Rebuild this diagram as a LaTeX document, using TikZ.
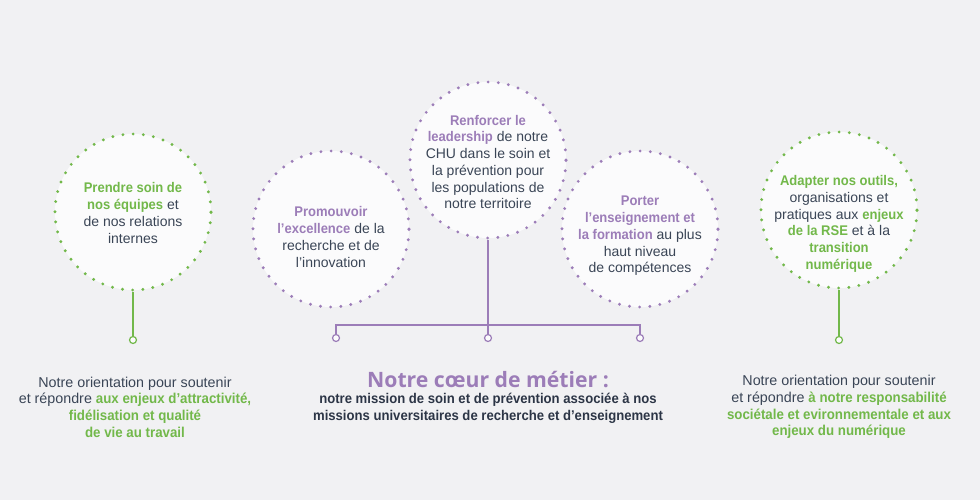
\documentclass[tikz,border=0pt]{standalone}
\usepackage{fontspec}
\setmainfont{Liberation Sans}[BoldFeatures={FakeStretch=0.93}]
\newfontfamily\titlefont{Open Sans}
\usetikzlibrary{positioning}

\definecolor{bgGrey}{HTML}{F1F1F3}
\definecolor{ringFill}{HTML}{FBFBFC}
\definecolor{leafGreen}{HTML}{72B84A}
\definecolor{coreViolet}{HTML}{9C7DB8}
\definecolor{inkText}{HTML}{3A4556}
\definecolor{inkDark}{HTML}{2C3546}

\newcommand{\gr}[1]{\textcolor{leafGreen}{\bfseries #1}}
\newcommand{\vi}[1]{\textcolor{coreViolet}{\bfseries #1}}

\begin{document}
\begin{tikzpicture}[x=1pt,y=1pt,yscale=-1,xscale=1,
  ring/.style={circle, minimum size=156pt, inner sep=0pt, fill=ringFill, line width=3.2pt, dash pattern=on 0pt off 10.2pt, line cap=round},
  greenring/.style={ring, draw=leafGreen},
  violetring/.style={ring, draw=coreViolet},
  endpt/.style={circle, minimum size=7pt, inner sep=0pt, fill=ringFill, line width=1.2pt},
  greenline/.style={draw=leafGreen, line width=1.4pt},
  violetline/.style={draw=coreViolet, line width=1.4pt},
  ringtext/.style={align=center, text=inkText, font=\fontsize{14}{16.7}\selectfont},
  notetext/.style={align=center, text=inkText, font=\fontsize{14.3}{16.7}\selectfont}]
%background and frame
\fill[bgGrey] (0,0) rectangle (980,500);
\useasboundingbox (0,0) rectangle (980,500);

%Circles
\node[greenring] (care) at (133,212) {};
\node[violetring] (promo) at (331,229) {};
\node[violetring] (lead) at (488,160) {};
\node[violetring] (teach) at (640,229) {};
\node[greenring] (adapt) at (839,210) {};

% Text Node
\node[ringtext] (careText) at (133,213) {\gr{Prendre soin de}\\ \gr{nos équipes} et\\ de nos relations\\ internes};
% Text Node
\node[ringtext] (promoText) at (331,237) {\vi{Promouvoir}\\ \vi{l’excellence} de la\\ recherche et de\\ l’innovation};
% Text Node
\node[ringtext] (leadText) at (488,162) {\vi{Renforcer le}\\ \vi{leadership} de notre\\ CHU dans le soin et\\ la prévention pour\\ les populations de\\ notre territoire};
% Text Node
\node[ringtext] (teachText) at (640,236) {\vi{Porter}\\ \vi{l’enseignement et}\\ \vi{la formation} au plus\\ haut niveau\\ de compétences};
% Text Node
\node[ringtext] (adaptText) at (839,224) {\gr{Adapter nos outils,}\\ organisations et\\ pratiques aux \gr{enjeux}\\ \gr{de la RSE} et à la\\ \gr{transition}\\ \gr{numérique}};

%End points
\node[endpt, draw=leafGreen] (careEnd) at (133,340) {};
\node[endpt, draw=leafGreen] (adaptEnd) at (839,340) {};
\node[endpt, draw=coreViolet] (promoEnd) at (336,338) {};
\node[endpt, draw=coreViolet] (leadEnd) at (488,338) {};
\node[endpt, draw=coreViolet] (teachEnd) at (640,338) {};

%Straight Lines
\draw[greenline] (care) -- (careEnd);
\draw[greenline] (adapt) -- (adaptEnd);
\draw[violetline] (lead) -- (leadEnd);
\draw[violetline] (promoEnd) -- ++(0,-13) -| (teachEnd);

% Text Node
\node[notetext] (careNote) at (135,407) {Notre orientation pour soutenir\\ et répondre \gr{aux enjeux d’attractivité,}\\ \gr{fidélisation et qualité}\\ \gr{de vie au travail}};
% Text Node
\node[font=\titlefont\bfseries\fontsize{21.2}{24}\selectfont, text=coreViolet] (coreTitle) at (488,380) {Notre cœur de métier :};
% Text Node
\node[notetext, text=inkDark, font=\bfseries\fontsize{14.1}{16.7}\selectfont] (coreNote) at (488,408) {notre mission de soin et de prévention associée à nos\\ missions universitaires de recherche et d’enseignement};
% Text Node
\node[notetext] (adaptNote) at (839,407) {Notre orientation pour soutenir\\ et répondre \gr{à notre responsabilité}\\ \gr{sociétale et evironnementale et aux}\\ \gr{enjeux du numérique}};

\end{tikzpicture}
\end{document}
